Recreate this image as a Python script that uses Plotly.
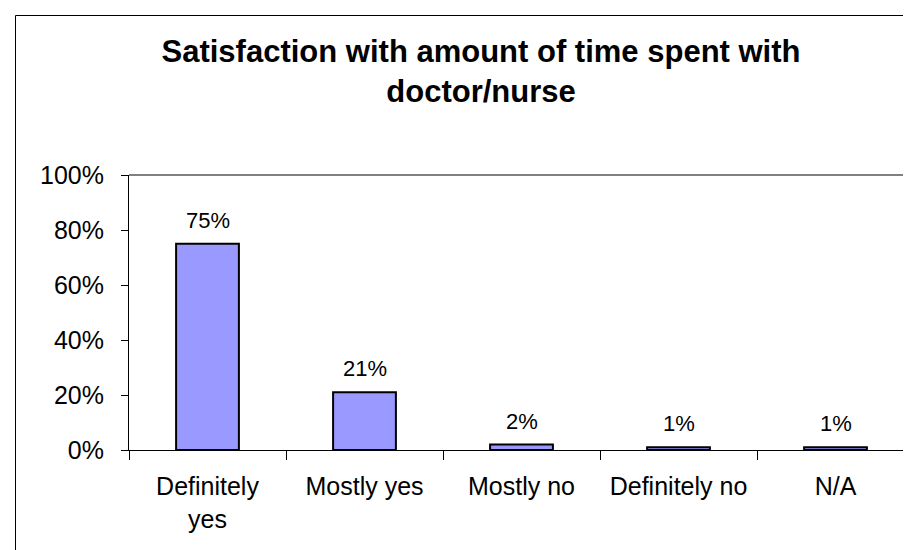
import plotly.graph_objects as go

categories = ["Definitely<br>yes", "Mostly yes", "Mostly no", "Definitely no", "N/A"]
values = [0.75, 0.21, 0.02, 0.01, 0.01]
y_ticks = [0, 0.2, 0.4, 0.6, 0.8, 1.0]
title_text = "Satisfaction with amount of time spent with<br>doctor/nurse"

W, H = 911, 550
L, R, T, B = 121, 5, 167, 108
pw = W - L - R
ph = H - T - B

font = "Liberation Sans, Arial, sans-serif"

fig = go.Figure()
fig.add_trace(go.Bar(
    x=categories, y=values,
    marker=dict(color="#9999FF", line=dict(color="black", width=2)),
    width=0.4,
))

annotations = [
    dict(x=c, y=v, xref="x", yref="y", text=f"{v:.0%}", showarrow=False,
         yanchor="bottom", yshift=9, font=dict(size=22, color="black", family=font))
    for c, v in zip(categories, values)
]

fig.update_layout(
    width=W, height=H,
    margin=dict(l=L, r=R, t=T, b=B, pad=0),
    paper_bgcolor="white", plot_bgcolor="white",
    font=dict(family=font, size=25, color="black"),
    showlegend=False,
    annotations=annotations,
    title=dict(text="<b>" + title_text + "</b>", x=473 / W, xanchor="center",
               y=1 - 54 / H, yanchor="top", yref="container",
               font=dict(size=31, family=font, color="black")),
    xaxis=dict(type="category", showline=True, linecolor="black", linewidth=1,
               ticks="outside", tickson="boundaries", ticklen=9, tickcolor="black",
               showgrid=False, tickfont=dict(size=25), ticklabelstandoff=14),
    yaxis=dict(range=[0, 1], tickvals=y_ticks, tickformat=".0%",
               showline=True, linecolor="black", linewidth=1,
               ticks="outside", ticklen=7, tickcolor="black",
               showgrid=False, zeroline=False, tickfont=dict(size=25),
               ticklabelstandoff=12),
)

shapes = [
    # plot area top/right grey border
    dict(type="line", xref="paper", yref="paper", x0=0, x1=1, y0=1, y1=1,
         line=dict(color="#808080", width=2)),
    dict(type="line", xref="paper", yref="paper", x0=1, x1=1, y0=0, y1=1,
         line=dict(color="#808080", width=2)),
    # outer chart border (right and bottom edges fall outside the picture)
    dict(type="rect", xref="paper", yref="paper",
         x0=(7.5 - L) / pw, x1=(960 - L) / pw,
         y0=-(80 + B) / ph, y1=(T + ph - 7.5) / ph,
         line=dict(color="black", width=1), fillcolor="rgba(0,0,0,0)", layer="below"),
]
fig.update_layout(shapes=shapes)

fig.write_html("out.html")
